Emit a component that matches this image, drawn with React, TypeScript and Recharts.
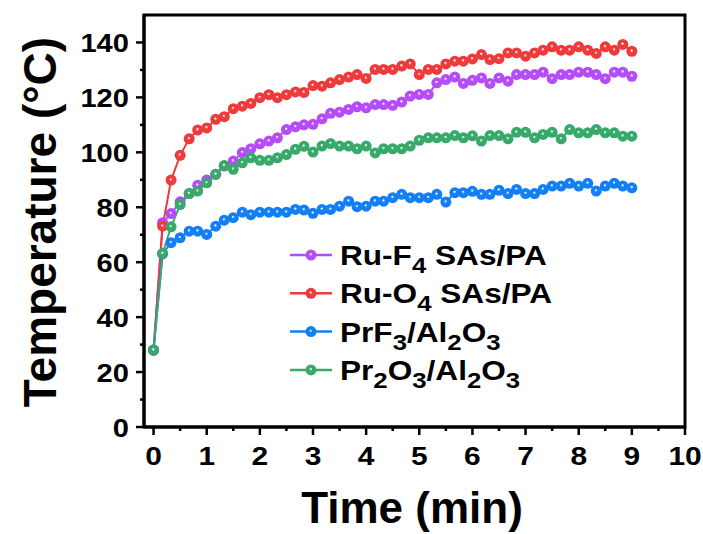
import { LineChart, Line, XAxis, YAxis, ReferenceArea, Legend, Label } from "recharts";

const times = [
  0, 0.17, 0.33, 0.5, 0.67, 0.83,
  1, 1.17, 1.33, 1.5, 1.67, 1.83,
  2, 2.17, 2.33, 2.5, 2.67, 2.83,
  3, 3.17, 3.33, 3.5, 3.67, 3.83,
  4, 4.17, 4.33, 4.5, 4.67, 4.83,
  5, 5.17, 5.33, 5.5, 5.67, 5.83,
  6, 6.17, 6.33, 6.5, 6.67, 6.83,
  7, 7.17, 7.33, 7.5, 7.67, 7.83,
  8, 8.17, 8.33, 8.5, 8.67, 8.83,
  9,
];

const ruF4 = [
  28, 74.4, 77.7, 82, 85, 88, 89.9, 92, 95, 96.8, 99.9, 101.3, 103.1, 104.1, 105.3, 108.3, 109.3, 110,
  110.2, 112.2, 114.2, 114.6, 115.6, 116.6, 116.2, 117.4, 117.4, 117.1, 118.3, 120.5, 121.1, 121.1, 125.3, 126.5,
  127.4, 125.1, 126.2, 127.1, 125.1, 127.1, 125.9, 128.3, 128.3, 128.3, 129.2, 126.8, 128.3, 128.3, 129.2, 129.2,
  128.3, 126.8, 129.2, 129.2, 127.7,
];

const ruO4 = [
  28, 73.1, 89.9, 98.9, 104.9, 108.1, 108.9, 112, 113, 115.9, 116.8, 117.8, 119.9, 121, 119.9, 121, 122, 121.8,
  124.3, 124.1, 125.3, 126.5, 127.4, 128.3, 126.9, 130.2, 130.2, 130.2, 131.4, 132.2, 128.3, 130.2, 130.2, 132.2,
  133.2, 133.2, 134, 135.6, 133.8, 134.1, 136.2, 136.2, 135, 136.2, 137.2, 138.4, 137.2, 137.2, 138.4, 137.2,
  136, 138.4, 137.2, 139.3, 136.8,
];

const prF3 = [
  28, 63, 67.1, 68.9, 71.3, 71.3, 70.1, 73.1, 75.3, 76.2, 78.2, 77.3, 78.2, 78.2, 78.2, 78.2, 79.2, 79,
  77.8, 79.2, 79.2, 80.4, 82.2, 80.2, 80.4, 82.2, 82.2, 83.5, 84.7, 83.5, 83.5, 83.5, 84.7, 81.9, 85.3, 85.3,
  85.8, 84.7, 84.7, 86.2, 85, 86.5, 85, 85, 86.5, 87.7, 87.7, 88.7, 87.7, 88.7, 85.9, 87.7, 88.7, 87.7, 87.1,
];

const pr2O3 = [
  28, 63.2, 72.9, 81, 85, 85.9, 88.9, 92, 95.2, 93.8, 96.2, 98, 97.1, 97.1, 98, 99.2, 101.1, 102.2,
  100.1, 102.3, 103.2, 102.3, 102.3, 101.3, 102.3, 99.8, 101.3, 101.3, 101.3, 102.3, 104.4, 105.3, 105.3, 105.3,
  106.1, 105.3, 106, 104.1, 106.1, 106.1, 104.9, 107.3, 107.3, 105.3, 106.5, 107.3, 104.9, 108.3, 107.1, 107.1,
  108.3, 107.1, 107.1, 105.9, 105.9,
];

const seriesKeys = ["ruF4", "ruO4", "prF3", "pr2O3"];
const seriesNames = ["Ru-F4 SAs/PA", "Ru-O4 SAs/PA", "PrF3/Al2O3", "Pr2O3/Al2O3"];
const seriesColors = ["#B44CF8", "#EE3A3A", "#137FF6", "#37A96A"];

const xTicks = [0, 0.5, 1, 1.5, 2, 2.5, 3, 3.5, 4, 4.5, 5, 5.5, 6, 6.5, 7, 7.5, 8, 8.5, 9, 9.5, 10];
const yTicks = [0, 10, 20, 30, 40, 50, 60, 70, 80, 90, 100, 110, 120, 130, 140];

const data = times.map((t, i) => ({
  t,
  ruF4: ruF4[i],
  ruO4: ruO4[i],
  prF3: prF3[i],
  pr2O3: pr2O3[i],
}));

const FONT = "'Liberation Sans', Arial, Helvetica, sans-serif";

// glossy ball markers
const ballDefs = (prefix: string) => (
  <defs>
    {seriesKeys.map((k, i) => (
      <radialGradient key={k} id={`${prefix}-${k}`} cx="50%" cy="50%" r="50%" fx="47%" fy="42%">
        <stop offset="0%" stopColor="#ffffff" stopOpacity={0.95} />
        <stop offset="10%" stopColor="#ffffff" stopOpacity={0.6} />
        <stop offset="30%" stopColor={seriesColors[i]} />
        <stop offset="100%" stopColor={seriesColors[i]} />
      </radialGradient>
    ))}
  </defs>
);

const nameSpans = (name: string) => {
  let lowered = false;
  return name
    .split(/(\d)/)
    .filter(Boolean)
    .map((p, i) => {
      const isSub = /^\d$/.test(p);
      const dy = isSub && !lowered ? 8 : !isSub && lowered ? -8 : 0;
      lowered = isSub;
      return (
        <tspan key={i} dy={dy} fontSize={isSub ? 22 : 27}>
          {p}
        </tspan>
      );
    });
};

const XTick = (props: any) => {
  const { x, y, payload } = props;
  const v = payload.value;
  const major = Number.isInteger(v);
  return (
    <g>
      <line x1={x} x2={x} y1={y} y2={y + (major ? 8 : 4)} stroke="#000" strokeWidth={2.5} />
      {major && (
        <g transform={`translate(${x} ${y + 37.5}) scale(1.15 1)`}>
          <text x={0} y={0} textAnchor="middle" fontSize={26} fontWeight="bold" fontFamily={FONT} fill="#000">
            {v}
          </text>
        </g>
      )}
    </g>
  );
};

const YTick = (props: any) => {
  const { x, y, payload } = props;
  const v = payload.value;
  const major = v % 20 === 0;
  return (
    <g>
      <line x1={x} x2={x - (major ? 8 : 4)} y1={y} y2={y} stroke="#000" strokeWidth={2.5} />
      {major && (
        <g transform={`translate(${x - 15} ${y + 9.5}) scale(1.12 1)`}>
          <text x={0} y={0} textAnchor="end" fontSize={26} fontWeight="bold" fontFamily={FONT} fill="#000">
            {v}
          </text>
        </g>
      )}
    </g>
  );
};

const renderLegend = () => (
  <svg width={330} height={170}>
    {ballDefs("lg")}
    {seriesNames.map((n, i) => {
      const cy = 20 + i * 38.3;
      return (
        <g key={n}>
          <line x1={5} x2={47} y1={cy} y2={cy} stroke={seriesColors[i]} strokeWidth={2.5} />
          <circle cx={26} cy={cy} r={5.5} fill={`url(#lg-${seriesKeys[i]})`} />
          <g transform={`translate(55 ${cy + 10}) scale(1.17 1)`}>
            <text x={0} y={0} fontWeight="bold" fontFamily={FONT} fill="#000">
              {nameSpans(n)}
            </text>
          </g>
        </g>
      );
    })}
  </svg>
);

export default function App() {
  return (
    <div style={{ position: "absolute", left: 0, top: 0, width: 703, height: 534, background: "#fff" }}>
      <LineChart width={703} height={534} data={data} margin={{ top: 15, right: 18, left: 0, bottom: 0 }}>
        {ballDefs("ball")}
        <ReferenceArea x1={-0.18} x2={10} y1={0} y2={150} fill="none" stroke="#000" strokeWidth={3} />
        <XAxis
          dataKey="t"
          type="number"
          domain={[-0.18, 10]}
          ticks={xTicks}
          interval={0}
          height={107}
          tickSize={0}
          tickMargin={0}
          tickLine={false}
          tick={<XTick />}
          axisLine={{ stroke: "#000", strokeWidth: 3 }}
          allowDataOverflow
        >
          <Label
            content={() => (
              <text x={412} y={523} textAnchor="middle" fontSize={44} fontWeight="bold" fontFamily={FONT} fill="#000">
                Time (min)
              </text>
            )}
          />
        </XAxis>
        <YAxis
          type="number"
          domain={[0, 150]}
          ticks={yTicks}
          interval={0}
          width={144}
          tickSize={0}
          tickMargin={0}
          tickLine={false}
          tick={<YTick />}
          axisLine={{ stroke: "#000", strokeWidth: 3 }}
          allowDataOverflow
        >
          <Label
            content={() => (
              <text
                transform="translate(56 222) rotate(-90)"
                textAnchor="middle"
                fontSize={46}
                fontWeight="bold"
                fontFamily={FONT}
                fill="#000"
              >
                Temperature (°C)
              </text>
            )}
          />
        </YAxis>
        <Legend
          layout="vertical"
          align="center"
          verticalAlign="middle"
          content={renderLegend}
          wrapperStyle={{ left: 285, top: 235, width: 330, height: 170 }}
        />
        {seriesKeys.map((k, i) => (
          <Line
            key={k}
            dataKey={k}
            name={seriesNames[i]}
            type="linear"
            stroke={seriesColors[i]}
            strokeWidth={2}
            dot={{ r: 5.5, fill: `url(#ball-${k})`, stroke: "none", strokeWidth: 0 }}
            activeDot={false}
            isAnimationActive={false}
          />
        ))}
      </LineChart>
    </div>
  );
}
